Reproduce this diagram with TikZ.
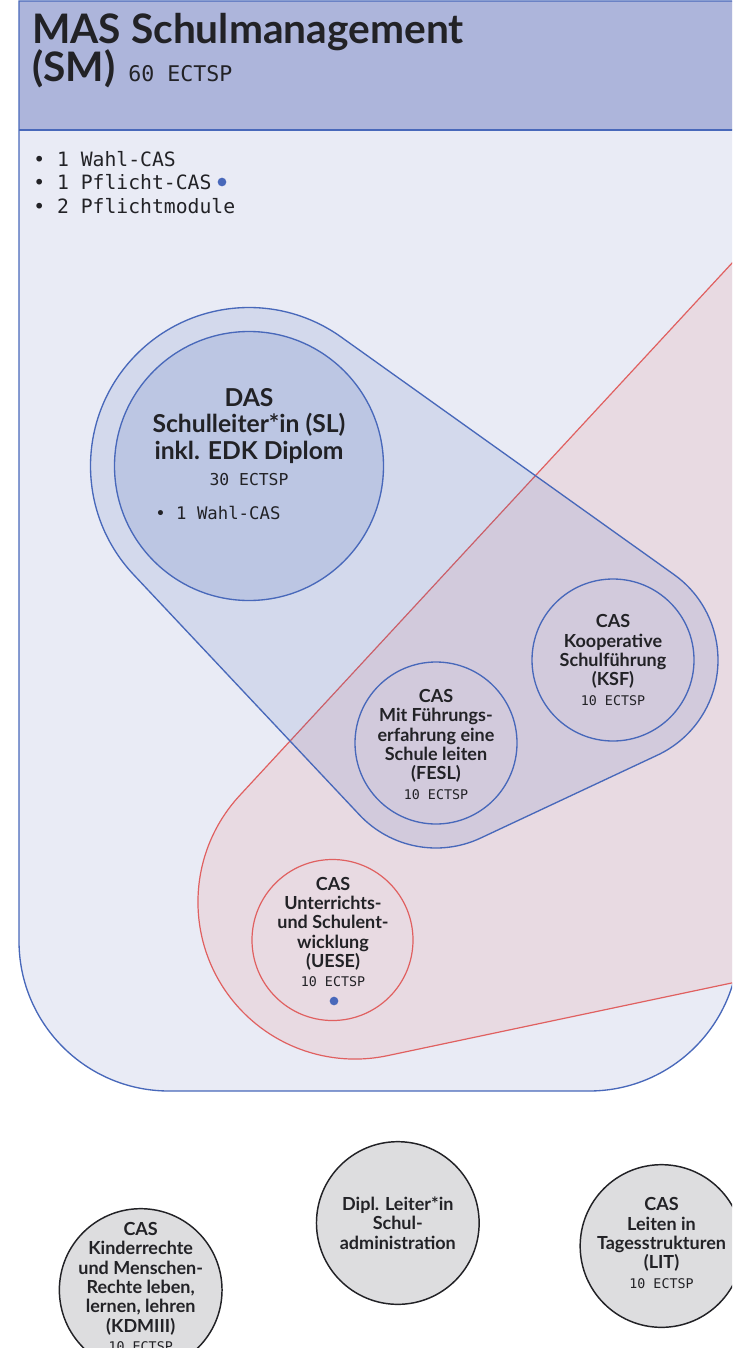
\documentclass[tikz,border=0pt]{standalone}
\usepackage{fontspec}
\setmainfont{Lato}
\setmonofont{DejaVu Sans Mono}
\usepackage{xcolor}
\definecolor{blauRand}{RGB}{72, 104, 186}
\definecolor{huelleBlau}{RGB}{57, 92, 177}
\definecolor{kopfBlau}{RGB}{173, 181, 219}
\definecolor{grundBlau}{RGB}{233, 235, 245}
\definecolor{rotRand}{RGB}{224, 96, 96}
\definecolor{rosa}{RGB}{232, 218, 226}
\definecolor{grauFuell}{RGB}{221, 221, 223}
\definecolor{schrift}{RGB}{34, 34, 38}
\usetikzlibrary{calc,positioning}
\tikzstyle{kreis}=[circle, draw=blauRand, line width=1pt,
                   minimum size=121.5pt, inner sep=0pt, outer sep=0pt]
\tikzstyle{rotKreis}=[circle, draw=rotRand, line width=0.9pt,
                   minimum size=120.75pt, inner sep=0pt, outer sep=0pt]
\tikzstyle{grauKreis}=[circle, draw=schrift, fill=grauFuell, line width=1.1pt,
                   minimum size=122pt, inner sep=0pt, outer sep=0pt]
\tikzstyle{klein}=[align=center, text=schrift, inner sep=0pt,
                   font=\fontsize{13.5}{14.5}\selectfont\bfseries]
\tikzstyle{liste}=[anchor=base west, text=schrift, inner sep=0pt,
                   font=\ttfamily\fontsize{14.8}{17.6}\selectfont]
\tikzstyle{punkt}=[circle, fill=blauRand, minimum size=6.5pt, inner sep=0pt]
\newcommand{\ects}[1]{{\ttfamily\mdseries\fontsize{10}{14.5}\selectfont #1}}

\begin{document}
\begin{tikzpicture}[x=0.75pt,y=-0.75pt]
    \useasboundingbox (0,0) rectangle (732,1348);
    \clip (0,0) rectangle (732,1348);

    % MAS Rahmen
    \fill[grundBlau] (19,1) -- (739,1) -- (739,941) arc[start angle=0, end angle=90, radius=150]
        -- (169,1091) arc[start angle=90, end angle=180, radius=150] -- cycle;
    \fill[kopfBlau] (19,1) rectangle (739,130);

    % Pflicht-CAS Bereich
    \draw[rotRand, fill=rosa, line width=0.9pt] (760,232.8) -- (239.4,795.8)
        arc[start angle=-137.4, end angle=-281.7, radius=157] -- (760,977) -- cycle;

    % DAS Huelle
    \coordinate (dasM) at (249,466);
    \coordinate (ksfM) at (613,660);
    \coordinate (feslM) at (436,743);
    \draw[blauRand, line width=1pt, fill=huelleBlau, fill opacity=0.12]
        ($(dasM)+(-54.5:158.5)$) -- ($(ksfM)+(-54.5:105)$)
        arc[start angle=-54.5, end angle=64.9, radius=105]
        -- ($(feslM)+(64.9:105)$)
        arc[start angle=64.9, end angle=136.8, radius=105]
        -- ($(dasM)+(136.8:158.5)$)
        arc[start angle=136.8, end angle=305.5, radius=158.5] -- cycle;

    \node (das) at (dasM) [kreis, minimum size=201.75pt, fill=huelleBlau, fill opacity=0.15] {};
    \node (ksf) at (ksfM) [kreis] {};
    \node (fesl) at (feslM) [kreis] {};
    \node (uese) at (332.5,940) [rotKreis] {};

    \draw[blauRand, line width=1pt] (19,1) -- (739,1) -- (739,941) arc[start angle=0, end angle=90, radius=150]
        -- (169,1091) arc[start angle=90, end angle=180, radius=150] -- cycle;
    \draw[blauRand, line width=1pt] (19,130) -- (739,130);

    % Titel
    \node (titel) at (32,44) [anchor=base west, inner sep=0pt, text=schrift,
        font=\fontsize{30.5}{36}\selectfont\bfseries] {MAS Schulmanagement};
    \node (sm) at (32,82) [anchor=base west, inner sep=0pt, text=schrift,
        font=\fontsize{30.5}{36}\selectfont\bfseries] {(SM)};
    \node (smEcts) at (128,82) [anchor=base west, inner sep=0pt, text=schrift,
        font=\ttfamily\fontsize{16.2}{20}\selectfont] {60 ECTSP};

    \foreach \i/\t in {0/{1 Wahl-CAS},1/{1 Pflicht-CAS},2/{2 Pflichtmodule}}
        \node (liste\i) at (33,166.5+23.5*\i) [liste] {• \t};
    \node (pflichtPunkt) at (222,182) [punkt] {};

    % Texte in den Kreisen
    \node (dasText) at (249,437) [klein, font=\fontsize{18.5}{19.9}\selectfont\bfseries]
        {DAS\\Schulleiter*in (SL)\\inkl. EDK Diplom\\{\ttfamily\mdseries\fontsize{12.3}{19.9}\selectfont 30 ECTSP}};
    \node (dasListe) at (155,519.5) [liste, font=\ttfamily\fontsize{13}{16}\selectfont] {• 1 Wahl-CAS};
    \node (ksfText) at (ksf) [klein] {CAS\\Kooperative\\Schulführung\\(KSF)\\\ects{10 ECTSP}};
    \node (feslText) at (fesl) [klein, yshift=-1pt]
        {CAS\\Mit Führungs-\\erfahrung eine\\Schule leiten\\(FESL)\\\ects{10 ECTSP}};
    \node (ueseText) at (333,932) [klein]
        {CAS\\Unterrichts-\\und Schulent-\\wicklung\\(UESE)\\\ects{10 ECTSP}};
    \node (uesePunkt) at (334,1001) [punkt] {};

    % Module ausserhalb
    \node (kdm) at (140.7,1290) [grauKreis] {};
    \node (dipl) at (397.8,1223) [grauKreis] {};
    \node (lit) at (661.5,1246) [grauKreis] {};
    \node (kdmText) at (140.7,1287) [klein]
        {CAS\\Kinderrechte\\und Menschen-\\Rechte leben,\\lernen, lehren\\(KDMIII)\\\ects{10 ECTSP}};
    \node (diplText) at (dipl) [klein] {Dipl. Leiter*in\\Schul-\\administration};
    \node (litText) at (661.5,1243) [klein] {CAS\\Leiten in\\Tagesstrukturen\\(LIT)\\\ects{10 ECTSP}};
\end{tikzpicture}
\end{document}
